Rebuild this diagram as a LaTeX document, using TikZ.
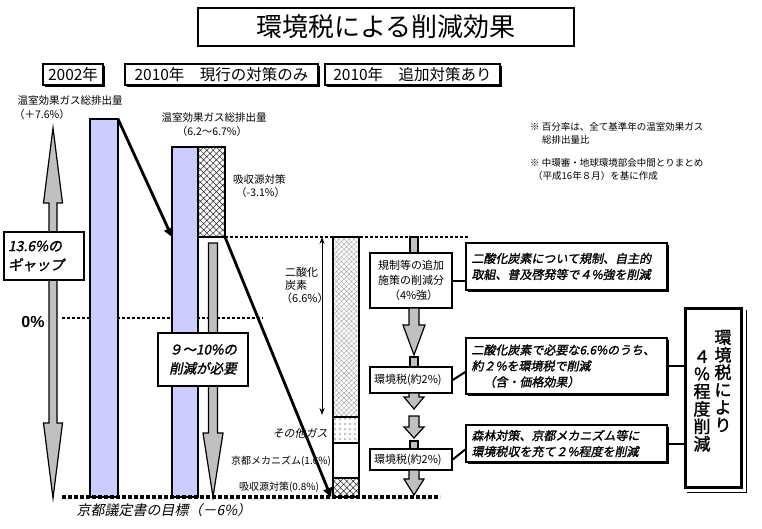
\documentclass[tikz,border=0pt]{standalone}
\usepackage{fontspec}
\setmainfont{Noto Sans CJK JP}
\newfontfamily\jpit[FakeSlant=0.2,FakeBold=1.5]{Noto Sans CJK JP}
\newfontfamily\jpsl[FakeSlant=0.2]{Noto Sans CJK JP}
\newfontfamily\jpbold[FakeBold=1.5]{Noto Sans CJK JP}
\newfontfamily\lsans{Liberation Sans}
\usetikzlibrary{patterns,patterns.meta,shadows,arrows.meta}
\definecolor{barblue}{RGB}{204,204,255}
\definecolor{arrgray}{RGB}{192,192,192}
\newcommand\fsz[2]{\fontsize{#1pt}{#2pt}\selectfont}
\newcommand\downarr[6]{\draw[garrow] (#1-#3,#2) -- (#1+#3,#2) -- (#1+#3,#4) -- (#1+#5,#4) -- (#1,#6) -- (#1-#5,#4) -- (#1-#3,#4) -- cycle;}
\begin{document}
\begin{tikzpicture}[x=1pt,y=-1pt,
  bar/.style={draw=black,line width=1.8pt,fill=barblue},
  garrow/.style={draw=black,line width=1.2pt,fill=arrgray},
  dline/.style={dash pattern=on 3pt off 2pt},
  tbox/.style={draw=black,line width=1.5pt,fill=white,inner sep=3pt},
  hdr/.style={tbox,drop shadow={shadow xshift=2pt,shadow yshift=-2pt,fill=black,opacity=1}},
  ibox/.style={tbox,drop shadow={shadow xshift=1.5pt,shadow yshift=-1.5pt,fill=black,opacity=1},align=left,inner xsep=5pt},
  lbl/.style={inner sep=0pt},
  blkarrow/.style={line width=2.8pt,-{Triangle[length=9pt,width=9pt]}},
  hatchA/.style={pattern={Hatch[angle=45,distance=4.5pt,line width=0.5pt]},pattern color=black!85},
  hatchB/.style={pattern={Hatch[angle=45,distance=3.5pt,line width=0.3pt]},pattern color=black!40},
  dotsP/.style={pattern={Dots[distance=5pt,radius=0.55pt]}},
]
\useasboundingbox (0,0) rectangle (762,529);
\fill[white] (0,0) rectangle (762,529);

% title
\node[draw,line width=1.8pt,minimum width=376pt,minimum height=38pt,inner sep=0pt,font=\fsz{26}{30}] (title) at (386,27) {環境税による削減効果};

% headers
\node[hdr,minimum width=60pt,minimum height=21pt,font=\fsz{15.5}{18}] (h1) at (73,74.5) {2002年};
\node[hdr,minimum width=193pt,minimum height=21pt,font=\fsz{15.5}{18}] (h2) at (221.5,74.5) {2010年　現行の対策のみ};
\node[hdr,minimum width=175pt,minimum height=21pt,font=\fsz{15.5}{18}] (h3) at (412.5,74.5) {2010年　追加対策あり};

% top labels
\node[lbl,font=\fsz{10.5}{12}] (l1a) at (70,101) {温室効果ガス総排出量};
\node[lbl,font=\fsz{10.5}{12}] (l1b) at (42,115) {（＋7.6\%）};
\node[lbl,font=\fsz{10.5}{12}] (l2a) at (214,118) {温室効果ガス総排出量};
\node[lbl,font=\fsz{10.5}{12}] (l2b) at (212,132) {（6.2〜6.7\%）};
\node[lbl,anchor=west,font=\fsz{10.5}{12}] (l3a) at (233,180) {吸収源対策};
\node[lbl,anchor=west,font=\fsz{10.5}{12}] (l3b) at (236,193) {（-3.1\%）};

% notes
\node[lbl,anchor=west,font=\fsz{9.5}{11}] (n1) at (530,127) {※ 百分率は、全て基準年の温室効果ガス};
\node[lbl,anchor=west,font=\fsz{9.5}{11}] (n2) at (542,140) {総排出量比};
\node[lbl,anchor=west,font=\fsz{9.5}{11}] (n3) at (530,163) {※ 中環審・地球環境部会中間とりまとめ};
\node[lbl,anchor=west,font=\fsz{9.5}{11}] (n4) at (533,176) {（平成16年８月）を基に作成};

% dotted reference lines
\draw[dline,line width=2.5pt] (62,318) -- (263,318);
\draw[dline,line width=2pt] (225,237) -- (470,237);

% bars
\draw[bar] (90,119) rectangle (118,497);
\draw[bar] (172,147) rectangle (198,497);
\draw[line width=1.8pt,hatchA] (198,147) rectangle (225,237);

% stacked column
\draw[line width=1.8pt,hatchB] (333,237) rectangle (359,417);
\draw[line width=1.8pt,dotsP] (333,417) rectangle (359,443);
\draw[line width=1.8pt,fill=white] (333,443) rectangle (359,478);
\draw[line width=1.8pt,hatchA] (333,478) rectangle (359,497);

% bottom dotted line
\draw[dline,line width=3.5pt,dash pattern=on 4pt off 2pt] (62,497) -- (440,497);

% black arrows
\coordinate (b1tr) at (118,119);
\coordinate (b2in) at (172,237);
\coordinate (hbr) at (225,237);
\coordinate (stk) at (331,497);
\draw[blkarrow] (b1tr) -- (b2in);
\draw[blkarrow] (hbr) -- (stk);

% thin double arrow
\coordinate (co2t) at (322,237);
\coordinate (co2b) at (322,415);
\draw[line width=1pt,{Stealth[length=7pt,width=5pt]}-{Stealth[length=7pt,width=5pt]}] (co2t) -- (co2b);

% left double grey arrow
\draw[garrow] (49,203) -- (43.5,203) -- (53,128) -- (62.5,203) -- (57,203) -- (57,423) -- (62.5,423) -- (53,498) -- (43.5,423) -- (49,423) -- cycle;
\node[tbox,minimum width=80pt,minimum height=48pt,align=left,text width=72pt,font=\jpit\fsz{14}{19}] (gap) at (44,256) {13.6\%の\\ギャップ};
\node[lbl,font=\lsans\bfseries\fsz{16}{18}] (zero) at (33,322) {0\%};

% bar2 grey arrow
\downarr{213}{243}{4.5}{433}{10}{497}
\node[tbox,minimum width=90pt,minimum height=53pt,align=center,font=\jpit\fsz{13.5}{19}] (need) at (203,359.5) {９〜10\%の\\削減が必要};

% middle labels
\node[lbl,anchor=west,font=\fsz{11}{12}] (c1) at (285,272) {二酸化};
\node[lbl,anchor=west,font=\fsz{11}{12}] (c2) at (285,285) {炭素};
\node[lbl,anchor=west,font=\fsz{11}{12}] (c3) at (281,298) {（6.6\%）};
\node[lbl,font=\jpsl\fsz{11}{12}] (oth) at (300,433) {その他ガス};
\node[lbl,font=\fsz{10}{12}] (kyo) at (281,461) {京都メカニズム(1.6\%)};
\node[lbl,font=\fsz{10}{12}] (kyu) at (279,487) {吸収源対策(0.8\%)};
\node[lbl,font=\jpsl\fsz{14}{16}] (goal) at (164,510) {京都議定書の目標（－6\%）};

% right flow
\draw[garrow] (410,237) rectangle (418,253);
\node[tbox,minimum width=82pt,minimum height=55pt,align=left,font=\fsz{11}{15}] (r1) at (411,280.5) {規制等の追加\\施策の削減分\\　（4\%強）};
\downarr{414}{308}{5}{325}{11}{355}
\draw[garrow] (410,357) rectangle (418,367);
\node[tbox,minimum width=82pt,minimum height=26pt,text width=74pt,align=left,font=\fsz{11}{13}] (r2) at (411,380) {環境税(約2\%)};
\downarr{414}{393}{5}{397}{10}{409}
\downarr{414}{416}{5}{427}{10}{438}
\draw[garrow] (410,441) rectangle (418,449);
\node[tbox,minimum width=82pt,minimum height=21pt,text width=74pt,align=left,font=\fsz{11}{13}] (r3) at (411,459.5) {環境税(約2\%)};
\downarr{414}{470}{5}{479}{10}{495}

% right italic boxes
\node[ibox,minimum width=201pt,minimum height=47pt,text width=190pt,font=\jpit\fsz{12}{16}] (t1) at (566.5,266.5) {二酸化炭素について規制、自主的\\取組、普及啓発等で４\%強を削減};
\node[ibox,minimum width=201pt,minimum height=56pt,text width=190pt,font=\jpit\fsz{12}{16}] (t2) at (566.5,366) {二酸化炭素で必要な6.6\%のうち、\\約２\%を環境税で削減\\　（含・価格効果）};
\node[ibox,minimum width=201pt,minimum height=37pt,text width=190pt,font=\jpit\fsz{12}{16}] (t3) at (566.5,443.5) {森林対策、京都メカニズム等に\\環境税収を充て２\%程度を削減};

\draw[line width=2pt] (r1.east) -- (r1.east -| t1.west);
\draw[line width=2pt] (r2.east) -- ([yshift=-6pt]t2.west);
\draw[line width=2pt] (r3.east) -- ([yshift=-6pt]t3.west);

% big box
\node[draw,line width=3pt,fill=white,minimum width=56pt,minimum height=179pt] (big) at (713,397.5) {};
\draw[line width=1pt] ([xshift=4pt,yshift=-3pt]big.north east) -- ([xshift=4pt,yshift=-4pt]big.south east) -- ([xshift=3pt,yshift=-4pt]big.south west);
\draw[line width=2pt] (t2.east) -- (t2.east -| big.west);
\draw[line width=2pt] (t3.east) -- (t3.east -| big.west);
\node[lbl,align=center,font=\jpbold\fsz{17}{17.5}] (bcol1) at (723,381) {環\\境\\税\\に\\よ\\り};
\node[lbl,align=center,font=\jpbold\fsz{17}{17.5}] (bcol2) at (702,401) {４\\％\\程\\度\\削\\減};
\end{tikzpicture}
\end{document}
